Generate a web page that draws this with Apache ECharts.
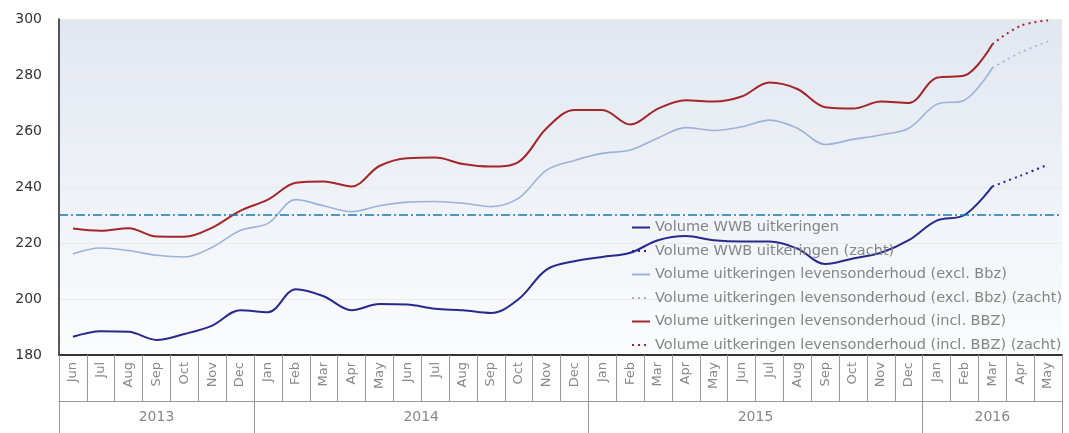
<!DOCTYPE html>
<html>
<head>
<meta charset="utf-8">
<script src="https://cdn.jsdelivr.net/npm/echarts@6/dist/echarts.min.js"></script>
<style>
  html, body { margin: 0; padding: 0; background: #fff; }
  #main { width: 1069px; height: 433px; }
</style>
</head>
<body>
<div id="main"></div>
<script>
"use strict";
// maanden jun 2013 t/m mei 2016
var months = ["Jun", "Jul", "Aug", "Sep", "Oct", "Nov", "Dec",
    "Jan", "Feb", "Mar", "Apr", "May", "Jun", "Jul", "Aug", "Sep", "Oct", "Nov", "Dec",
    "Jan", "Feb", "Mar", "Apr", "May", "Jun", "Jul", "Aug", "Sep", "Oct", "Nov", "Dec",
    "Jan", "Feb", "Mar", "Apr", "May"];
var years = ["2013", "2014", "2015", "2016"];
var yearCenters = [3.5, 13, 25, 33.5];
var yearEdges = [0, 7, 19, 31, 36];
var yTicks = [180, 200, 220, 240, 260, 280, 300];
var refValue = 230;

var wwb = [186.5, 188.5, 188.3, 185.4, 187.5, 190.5, 196,
    195.3, 203.5, 201, 196, 198.2, 198, 196.5, 196, 195, 200, 210.5, 213.5,
    215, 216.5, 221, 222.5, 221, 220.5, 220.5, 218, 212.5, 214.5, 216.5, 221,
    228, 230, 240.2];
var wwbSoft = [240.2, 244, 248];

var excl = [216.1, 218.2, 217.3, 215.6, 215, 218.5, 224.5,
    227, 235.5, 233.3, 231.2, 233.3, 234.6, 234.8, 234.2, 233, 236, 246, 249.5,
    252, 253.2, 257.5, 261.2, 260.2, 261.5, 263.9, 261, 255.2, 257, 258.6, 261,
    269.5, 271, 282.5];
var exclSoft = [282.5, 288, 292];

var incl = [225.2, 224.4, 225.3, 222.3, 222.2, 225.5, 231.5,
    235.5, 241.5, 242, 240.2, 247.5, 250.3, 250.5, 248.2, 247.3, 249, 261, 267.5,
    267.5, 262.3, 268, 271, 270.5, 272.3, 277.3, 275, 268.5, 268, 270.5, 270,
    279, 279.8, 291];
var inclSoft = [291, 297.5, 299.5];

var names = ["Volume WWB uitkeringen", "Volume WWB uitkeringen (zacht)",
    "Volume uitkeringen levensonderhoud (excl. Bbz)",
    "Volume uitkeringen levensonderhoud (excl. Bbz) (zacht)",
    "Volume uitkeringen levensonderhoud (incl. BBZ)",
    "Volume uitkeringen levensonderhoud (incl. BBZ) (zacht)"];

// zachte reeks begint bij het laatste harde punt
function softData(vals) {
    var out = [];
    for (var i = 0; i < months.length - vals.length; i++) out.push(null);
    return out.concat(vals);
}

function lineSeries(name, data, color, width, dotted) {
    return {
        name: name, type: "line", data: data, smooth: 0.35,
        symbol: "none", connectNulls: false,
        lineStyle: {color: color, width: width, type: dotted ? [2, 4] : "solid"},
        itemStyle: {color: color}
    };
}

var series = [
    lineSeries(names[0], wwb, "#272a8c", 2, false),
    lineSeries(names[1], softData(wwbSoft), "#272a8c", 2, true),
    lineSeries(names[2], excl, "#9db2da", 1.6, false),
    lineSeries(names[3], softData(exclSoft), "#9db2da", 1.6, true),
    lineSeries(names[4], incl, "#a3262a", 2, false),
    lineSeries(names[5], softData(inclSoft), "#a3262a", 2, true)
];
series[0].markLine = {
    silent: true, symbol: "none", label: {show: false},
    lineStyle: {color: "#1a78ae", width: 1.5, type: [9, 3, 2, 3]},
    data: [{yAxis: refValue}]
};

var option = {
    animation: false,
    textStyle: {fontFamily: "DejaVu Sans"},
    grid: {
        left: 59, right: 7, top: 19, bottom: 78, show: true, borderWidth: 0,
        backgroundColor: {type: "linear", x: 0, y: 0, x2: 0, y2: 1,
            colorStops: [{offset: 0, color: "#e1e7f1"}, {offset: 1, color: "#fbfcfd"}]}
    },
    legend: {
        orient: "vertical", left: 626, top: 215, itemGap: 8.5,
        itemWidth: 18, itemHeight: 14, data: names,
        itemStyle: {opacity: 0},
        textStyle: {color: "#858585", fontSize: 14.5, fontFamily: "DejaVu Sans"}
    },
    xAxis: [{
        type: "category", data: months, boundaryGap: true,
        axisLine: {lineStyle: {color: "#333", width: 2}},
        axisTick: {show: true, interval: 0, length: 46, lineStyle: {color: "#999"}},
        axisLabel: {interval: 0, rotate: 90, color: "#888", fontSize: 13, margin: 7}
    }, {
        type: "value", min: 0, max: 36, position: "bottom", offset: 46,
        splitLine: {show: false},
        axisLine: {show: true, lineStyle: {color: "#999"}},
        axisTick: {show: true, customValues: yearEdges, length: 34, lineStyle: {color: "#999"}},
        axisLabel: {
            customValues: yearCenters, color: "#888", fontSize: 14, margin: 9,
            formatter: function (v) { return years[yearCenters.indexOf(v)]; }
        }
    }],
    yAxis: {
        type: "value", min: yTicks[0], max: yTicks[yTicks.length - 1], interval: 20,
        axisLine: {show: true, lineStyle: {color: "#222", width: 1.5}},
        axisTick: {show: false},
        splitLine: {lineStyle: {color: "#ece9e6", width: 1}},
        axisLabel: {color: "#333", fontSize: 14, margin: 17}
    },
    series: series
};

var chart = echarts.init(document.getElementById("main"));
chart.setOption(option);
</script>
</body>
</html>
